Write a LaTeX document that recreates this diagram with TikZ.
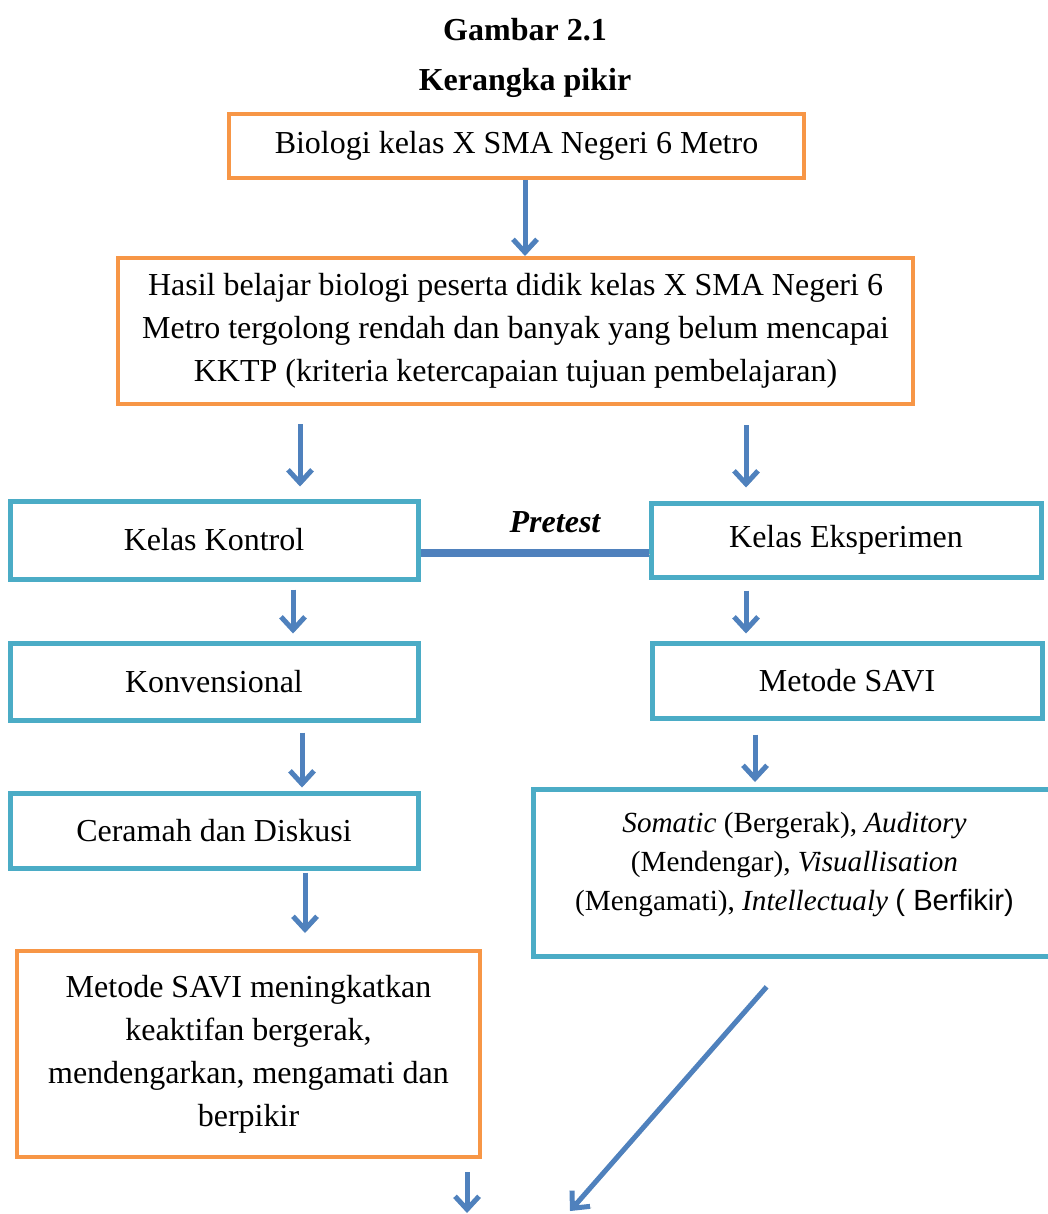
\documentclass[tikz,border=0pt]{standalone}
\usepackage{fontspec}
\setmainfont{Liberation Serif}
\newfontfamily\arialfont{Liberation Sans}
\usepackage{xcolor}
\usetikzlibrary{arrows.meta}
\definecolor{boxorange}{HTML}{F79646}
\definecolor{boxteal}{HTML}{4BACC6}
\definecolor{arrowblue}{HTML}{4F81BD}

\begin{document}
\begin{tikzpicture}[x=0.5pt,y=-0.5pt,font=\fontsize{16}{21.5}\selectfont,
  obox/.style={draw=boxorange,line width=2pt,align=center,inner sep=0pt},
  tbox/.style={draw=boxteal,line width=2.5pt,align=center,inner sep=0pt},
  arr/.style={arrowblue,line width=2.5pt,-{Straight Barb[length=6.5pt,width=12pt]},
    preaction={draw=black!25,transform canvas={xshift=0.7pt,yshift=-0.7pt}}},
  title/.style={font=\fontsize{16}{21.5}\selectfont\bfseries}]
\useasboundingbox (0,0) rectangle (1048,1214);
\clip (0,0) rectangle (1048,1214);
% judul
\node[title] (judul) at (525,30) {Gambar 2.1};
\node[title] (subjudul) at (525,83) {Kerangka pikir};
% kotak atas
\node[obox,minimum width=287.5pt,minimum height=32pt] (bio) at (516.5,146) {Biologi kelas X SMA Negeri 6 Metro};
\node[obox,minimum width=397.5pt,minimum height=73pt] (hasil) at (515.5,331)
  {Hasil belajar biologi peserta didik kelas X SMA Negeri 6\\
   Metro tergolong rendah dan banyak yang belum mencapai\\
   KKTP (kriteria ketercapaian tujuan pembelajaran)};
% kelas kontrol
\node[tbox,minimum width=204pt,minimum height=39pt] (kontrol) at (214,540) {Kelas Kontrol};
\node[tbox,minimum width=204pt,minimum height=38.5pt] (konv) at (214,681.5) {Konvensional};
\node[tbox,minimum width=204pt,minimum height=37.5pt] (ceramah) at (214,830.5) {Ceramah dan Diskusi};
\node[obox,minimum width=231.5pt,minimum height=103pt] (hasilsavi) at (248.5,1054)
  {Metode SAVI meningkatkan\\ keaktifan bergerak,\\ mendengarkan, mengamati dan\\ berpikir};
% kelas eksperimen
\node[tbox,minimum width=195pt,minimum height=37pt] (eksp) at (846,540) {Kelas Eksperimen};
\node[tbox,minimum width=195pt,minimum height=37.5pt] (savi) at (847,680.5) {Metode SAVI};
\node[tbox,minimum width=261.5pt,minimum height=83.5pt,font=\fontsize{14.6}{19.5}\selectfont] (somatic) at (794.5,873)
  {\textit{Somatic} (Bergerak), \textit{Auditory}\\
   (Mendengar), \textit{Visuallisation}\\
   (Mengamati), \textit{Intellectualy} {\arialfont ( Berfikir)}\\[-8pt]\mbox{}};
% pretest
\node[font=\fontsize{16}{21.5}\selectfont\bfseries\itshape] (pretest) at (555,522) {Pretest};
\draw[arrowblue,line width=4pt,preaction={draw=black!25,transform canvas={xshift=0.7pt,yshift=-0.7pt}}]
  (kontrol.east |- 0,553) -- (eksp.west |- 0,553);
% panah
\coordinate (out1) at (467,1213);
\coordinate (out2) at (570,1211);
\draw[arr] (bio.south -| 525,0) -- (hasil.north -| 525,0);
\draw[arr,shorten <=9pt,shorten >=6pt] (hasil.south -| 300,0) -- (kontrol.north -| 300,0);
\draw[arr,shorten <=9.5pt,shorten >=6.5pt] (hasil.south -| 746,0) -- (eksp.north -| 746,0);
\draw[arr,shorten <=4pt,shorten >=3.5pt] (kontrol.south -| 293,0) -- (konv.north -| 293,0);
\draw[arr,shorten <=5.5pt,shorten >=3.5pt] (eksp.south -| 746,0) -- (savi.north -| 746,0);
\draw[arr,shorten <=5pt,shorten >=1.5pt] (konv.south -| 302,0) -- (ceramah.north -| 302,0);
\draw[arr,shorten <=7pt,shorten >=2.5pt] (savi.south -| 755,0) -- (somatic.north -| 755,0);
\draw[arr,shorten <=1pt,shorten >=8pt] (ceramah.south -| 305,0) -- (hasilsavi.north -| 305,0);
\draw[arr,shorten <=6.5pt] (hasilsavi.south -| 467,0) -- (out1);
\draw[arr,shorten <=18.5pt] (somatic.south -| 791,0) -- (out2);
\end{tikzpicture}
\end{document}
